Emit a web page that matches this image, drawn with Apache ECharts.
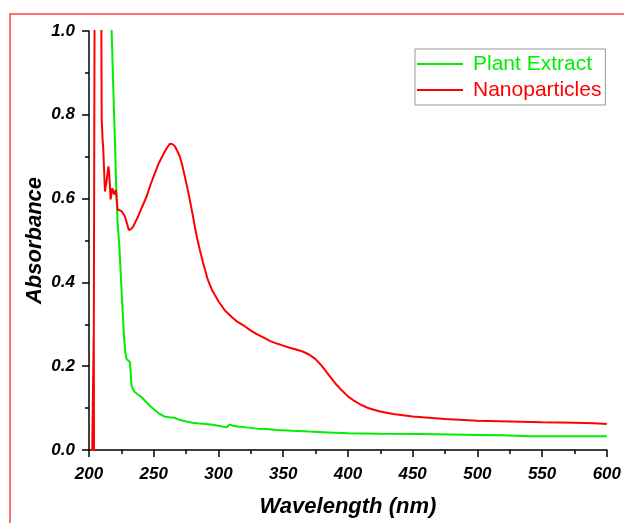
<!DOCTYPE html>
<html>
<head>
<meta charset="utf-8">
<script src="https://cdn.jsdelivr.net/npm/echarts@6/dist/echarts.min.js"></script>
<style>
    html, body { margin: 0; padding: 0; background: #fff; }
    #chart { width: 624px; height: 523px; }
</style>
</head>
<body>
<div id="chart"></div>
<script>
// UV-Vis spectra, values
var seriesNames = ['Plant Extract', 'Nanoparticles'];

var extractWavelength = [217.3, 217.5, 219.5, 220.0, 221.0, 222.1, 223.4, 224.5, 225.5, 226.5, 227.2, 228.0, 229.0, 230.5, 231.6, 232.3, 232.9, 234.0, 235.5, 238.0, 240.6, 244.0, 248.3, 251.0, 254.7, 258.0, 262.0, 266.0, 270.1, 275.0, 280.0, 285.0, 290.0, 295.6, 300.0, 306.1, 308.7, 311.0, 315.0, 321.5, 330.0, 337.0, 345.0, 357.0, 370.0, 385.0, 400.0, 425.0, 455.0, 480.0, 500.0, 520.0, 540.0, 570.0, 600.0];
var extractAbs = [1.05, 0.998, 0.788, 0.740, 0.63, 0.54, 0.49, 0.42, 0.36, 0.30, 0.265, 0.235, 0.217, 0.213, 0.21, 0.18, 0.153, 0.145, 0.138, 0.132, 0.126, 0.115, 0.102, 0.095, 0.086, 0.080, 0.078, 0.077, 0.072, 0.068, 0.065, 0.063, 0.062, 0.060, 0.058, 0.054, 0.061, 0.058, 0.056, 0.054, 0.051, 0.050, 0.048, 0.046, 0.044, 0.042, 0.040, 0.039, 0.038, 0.037, 0.036, 0.035, 0.033, 0.033, 0.033];

var nanoWavelength = [202.3, 203.6, 203.9, 203.7, 204.5, 209.2, 209.8, 210.5, 211.0, 212.3, 213.5, 215.0, 215.6, 216.7, 218.0, 219.5, 220.8, 222.1, 225.2, 227.7, 230.8, 232.5, 234.1, 238.0, 241.0, 244.5, 247.5, 250.9, 254.0, 257.3, 260.0, 262.4, 264.5, 266.3, 268.0, 270.1, 272.0, 274.0, 276.0, 277.8, 280.0, 281.7, 283.5, 285.5, 288.0, 291.7, 295.0, 300.0, 305.0, 310.0, 315.0, 320.0, 325.0, 330.0, 335.0, 340.0, 345.0, 350.0, 355.0, 360.0, 365.0, 370.0, 375.0, 380.0, 385.0, 390.0, 395.0, 400.0, 405.0, 410.0, 415.0, 420.0, 425.0, 435.0, 450.0, 475.0, 500.0, 525.0, 550.0, 575.0, 590.0, 600.0];
var nanoAbs = [-0.05, 0.27, -0.05, 0.27, 1.3, 1.3, 0.79, 0.74, 0.72, 0.617, 0.64, 0.677, 0.66, 0.598, 0.625, 0.61, 0.621, 0.574, 0.570, 0.558, 0.525, 0.527, 0.533, 0.558, 0.580, 0.605, 0.633, 0.661, 0.685, 0.705, 0.720, 0.731, 0.730, 0.725, 0.715, 0.701, 0.680, 0.653, 0.625, 0.598, 0.563, 0.534, 0.506, 0.479, 0.448, 0.407, 0.382, 0.355, 0.333, 0.318, 0.305, 0.296, 0.285, 0.276, 0.268, 0.260, 0.254, 0.249, 0.244, 0.240, 0.235, 0.228, 0.217, 0.200, 0.180, 0.160, 0.143, 0.128, 0.117, 0.108, 0.101, 0.096, 0.092, 0.086, 0.080, 0.074, 0.070, 0.068, 0.066, 0.065, 0.064, 0.062];

var xMin = 200, xMax = 600, xStep = 50;
var yMin = 0, yMax = 1, yStep = 0.2;

function zip(xs, ys) {
    var out = [];
    for (var i = 0; i < xs.length; i++) out.push([xs[i], ys[i]]);
    return out;
}

var FONT = "'Liberation Sans', Arial, sans-serif";
var GREEN = '#00ee00';
var RED = '#ff0000';

var axisCommon = {
    axisLine: { show: true, onZero: false, lineStyle: { color: '#000', width: 1.5 } },
    axisTick: { show: true, inside: false, length: 7, lineStyle: { color: '#000', width: 1.5 } },
    minorTick: { show: true, splitNumber: 2, length: 4, lineStyle: { color: '#000', width: 1.5 } },
    splitLine: { show: false },
    nameLocation: 'middle',
    nameMoveOverlap: false,
    nameTextStyle: { fontFamily: FONT, fontSize: 22, fontWeight: 'bold', fontStyle: 'italic', color: '#000' }
};

var chart = echarts.init(document.getElementById('chart'), null, { renderer: 'canvas' });

var option = {
    animation: false,
    backgroundColor: '#fff',
    graphic: [{
        type: 'rect',
        shape: { x: 10, y: 14, width: 700, height: 600 },
        style: { fill: 'none', stroke: '#ff4444', lineWidth: 1.5 },
        silent: true
    }],
    grid: { left: 89, right: 16, top: 31, bottom: 72, containLabel: false },
    legend: {
        orient: 'vertical',
        left: 415,
        top: 49,
        padding: [3, 4, 3, 2],
        itemGap: 2,
        itemWidth: 46,
        itemHeight: 2,
        icon: 'rect',
        borderColor: '#999',
        borderWidth: 1,
        textStyle: { fontFamily: FONT, fontSize: 21, lineHeight: 24, padding: [0, 0, 0, 5] },
        data: [
            { name: seriesNames[0], textStyle: { color: GREEN } },
            { name: seriesNames[1], textStyle: { color: RED } }
        ]
    },
    xAxis: Object.assign({}, axisCommon, {
        type: 'value',
        min: xMin,
        max: xMax,
        interval: xStep,
        name: 'Wavelength (nm)',
        nameGap: 46,
        axisLabel: { fontFamily: FONT, fontSize: 17, fontWeight: 'bold', fontStyle: 'italic', color: '#000', margin: 16 }
    }),
    yAxis: Object.assign({}, axisCommon, {
        type: 'value',
        min: yMin,
        max: yMax,
        interval: yStep,
        name: 'Absorbance',
        nameGap: 43,
        axisLabel: {
            fontFamily: FONT, fontSize: 17, fontWeight: 'bold', fontStyle: 'italic', color: '#000', margin: 14,
            formatter: function (v) { return v.toFixed(1); }
        }
    }),
    series: [
        {
            name: seriesNames[0],
            type: 'line',
            data: zip(extractWavelength, extractAbs),
            showSymbol: false,
            clip: true,
            color: GREEN,
            lineStyle: { color: GREEN, width: 2 }
        },
        {
            name: seriesNames[1],
            type: 'line',
            data: zip(nanoWavelength, nanoAbs),
            showSymbol: false,
            clip: true,
            color: RED,
            lineStyle: { color: RED, width: 2 }
        }
    ]
};

chart.setOption(option);
</script>
</body>
</html>
